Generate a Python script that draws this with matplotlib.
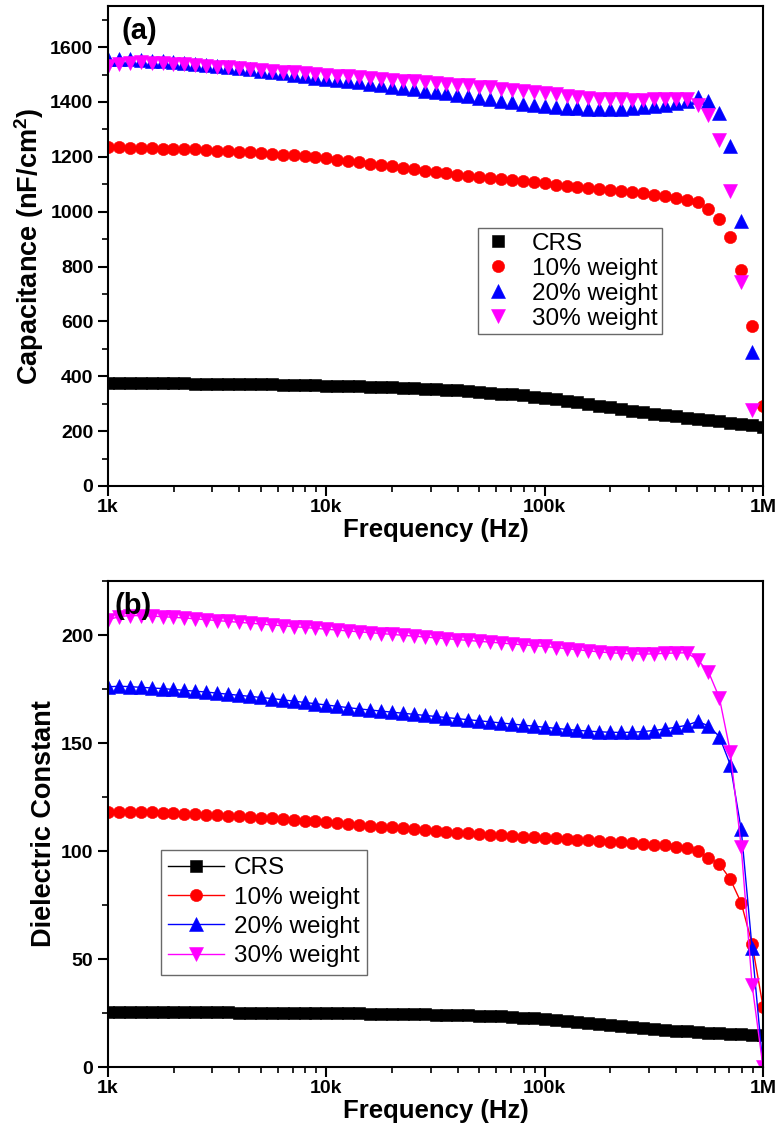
import numpy as np
import matplotlib
matplotlib.use("Agg")
import matplotlib.pyplot as plt
from matplotlib.ticker import FixedLocator, FixedFormatter, MultipleLocator, LogLocator, NullFormatter

plt.rcParams['font.family'] = ['Liberation Sans', 'DejaVu Sans']
plt.rcParams['mathtext.fontset'] = 'custom'
plt.rcParams['mathtext.bf'] = 'Liberation Sans:bold'
plt.rcParams['mathtext.rm'] = 'Liberation Sans'

# frequency sweep (Hz), 20 points per decade
freq_hz = [1000, 1122, 1259, 1413, 1585, 1778, 1995, 2239, 2512, 2818,
           3162, 3548, 3981, 4467, 5012, 5623, 6310, 7079, 7943, 8913,
           10000, 11220, 12589, 14125, 15849, 17783, 19953, 22387, 25119, 28184,
           31623, 35481, 39811, 44668, 50119, 56234, 63096, 70795, 79433, 89125,
           100000, 112202, 125893, 141254, 158489, 177828, 199526, 223872, 251189, 281838,
           316228, 354813, 398107, 446684, 501187, 562341, 630957, 707946, 794328, 891251,
           1000000]

series_names = ['CRS', '10% weight', '20% weight', '30% weight']

# (a) capacitance, nF/cm2
cap_crs = [376, 376, 375, 375, 375, 374, 374, 374, 373, 373, 372, 372, 371, 371, 370, 370, 369, 369, 368, 367, 366,
           365, 364, 363, 362, 361, 360, 358, 357, 355, 353, 351, 349, 346, 343, 340, 337, 334, 330, 326, 322,
           317, 311, 305, 299, 293, 287, 281, 275, 269, 264, 259, 254, 249, 245, 241, 236, 231, 226, 221, 216]
cap_10 = [1235, 1234, 1233, 1232, 1231, 1230, 1229, 1228, 1227, 1225, 1223, 1221, 1219, 1217, 1214, 1211, 1208, 1205, 1202, 1199, 1195,
          1190, 1185, 1180, 1175, 1170, 1165, 1160, 1155, 1150, 1145, 1140, 1135, 1131, 1127, 1123, 1119, 1115, 1111, 1107, 1103,
          1099, 1095, 1091, 1087, 1083, 1079, 1075, 1071, 1067, 1062, 1057, 1051, 1044,
          1034, 1008, 972, 906, 789, 584, 292]
cap_20 = [1555, 1558, 1556, 1553, 1551, 1548, 1545, 1542, 1538, 1535, 1531, 1527, 1523, 1519, 1514, 1509, 1504, 1499, 1494, 1488, 1484,
          1480, 1476, 1471, 1466, 1461, 1456, 1451, 1446, 1441, 1436, 1431, 1425, 1420, 1414, 1409, 1404, 1399, 1394, 1389, 1385,
          1382, 1379, 1377, 1375, 1374, 1374, 1375, 1377, 1380, 1384, 1389, 1395, 1405,
          1418, 1403, 1359, 1238, 965, 490, np.nan]
cap_30 = [1532, 1540, 1543, 1544, 1543, 1542, 1540, 1538, 1535, 1532, 1529, 1526, 1523, 1520, 1517, 1514, 1511, 1508, 1505, 1502, 1499,
          1496, 1493, 1490, 1487, 1484, 1481, 1478, 1475, 1472, 1469, 1466, 1463, 1460, 1456, 1453, 1449, 1445, 1441, 1437, 1433,
          1428, 1423, 1419, 1415, 1412, 1410, 1409, 1408, 1408, 1409, 1410, 1410, 1410,
          1390, 1353, 1260, 1074, 745, 278, np.nan]

# (b) dielectric constant
eps_crs = [25.6, 25.6, 25.6, 25.5, 25.5, 25.5, 25.4, 25.4, 25.4, 25.3, 25.3, 25.3, 25.2, 25.2, 25.2, 25.1, 25.1, 25.0, 25.0, 25.0, 24.9,
           24.9, 24.8, 24.8, 24.7, 24.7, 24.6, 24.6, 24.5, 24.4, 24.3, 24.2, 24.1, 24.0, 23.8, 23.6, 23.4, 23.2, 22.9, 22.6, 22.2,
           21.8, 21.3, 20.8, 20.3, 19.8, 19.3, 18.8, 18.3, 17.9, 17.5, 17.1, 16.8, 16.5,
           16.2, 15.9, 15.6, 15.3, 15.1, 14.9, 14.7]
eps_10 = [118, 118.2, 118.1, 118, 117.9, 117.7, 117.5, 117.3, 117.1, 116.9, 116.6, 116.3, 116, 115.7, 115.4, 115.1, 114.8, 114.5, 114.1, 113.7, 113.3,
          112.9, 112.5, 112.1, 111.7, 111.3, 110.9, 110.5, 110.1, 109.7, 109.3, 108.9, 108.5, 108.2, 107.9, 107.6, 107.3, 107, 106.7, 106.4, 106.1,
          105.8, 105.5, 105.2, 104.9, 104.6, 104.3, 104, 103.7, 103.4, 103, 102.6, 102, 101.2,
          100, 97, 94, 87, 76, 57, 28]
eps_20 = [176, 176.3, 176.1, 175.8, 175.5, 175.2, 174.8, 174.4, 174, 173.6, 173.1, 172.6, 172.1, 171.6, 171.1, 170.6, 170, 169.4, 168.8, 168.2, 167.6,
          167, 166.4, 165.8, 165.3, 164.8, 164.3, 163.8, 163.3, 162.8, 162.3, 161.8, 161.3, 160.8, 160.3, 159.8, 159.3, 158.8, 158.3, 157.8, 157.3,
          156.8, 156.3, 155.9, 155.5, 155.2, 155, 154.9, 155, 155.3, 155.8, 156.5, 157.3, 158.2,
          160, 158, 153, 140, 110, 55, 0]
eps_30 = [207, 208.5, 209, 209, 208.8, 208.5, 208.2, 207.9, 207.5, 207.1, 206.7, 206.3, 205.9, 205.5, 205.1, 204.7, 204.3, 203.9, 203.5, 203.1, 202.7,
          202.3, 201.9, 201.5, 201.1, 200.7, 200.3, 199.9, 199.5, 199.1, 198.7, 198.3, 197.9, 197.5, 197.1, 196.7, 196.3, 195.9, 195.5, 195.1, 194.7,
          194.2, 193.7, 193.2, 192.7, 192.2, 191.8, 191.5, 191.3, 191.2, 191.3, 191.5, 191.7, 191.8,
          188.6, 183, 171, 146, 102, 38, 0]

colors = ['black', 'red', 'blue', 'magenta']
markers = ['s', 'o', '^', 'v']
msizes = [8.4, 8.8, 9.8, 9.8]

fig = plt.figure(figsize=(7.77, 11.44), dpi=100)
ax_a = fig.add_axes([0.139, 0.5752, 0.843, 0.4196])
ax_b = fig.add_axes([0.139, 0.0673, 0.843, 0.4248])


def style_axis(ax, ymax, ymajor, yminor):
    ax.set_xscale('log')
    ax.set_xlim(1e3, 1e6)
    ax.set_ylim(0, ymax)
    ax.xaxis.set_major_locator(FixedLocator([1e3, 1e4, 1e5, 1e6]))
    ax.xaxis.set_major_formatter(FixedFormatter(['1k', '10k', '100k', '1M']))
    ax.xaxis.set_minor_locator(LogLocator(base=10, subs=np.arange(2, 10)))
    ax.xaxis.set_minor_formatter(NullFormatter())
    ax.yaxis.set_major_locator(MultipleLocator(ymajor))
    ax.yaxis.set_minor_locator(MultipleLocator(yminor))
    ax.tick_params(which='major', direction='out', length=7, width=1.5,
                   labelsize=14, top=False, right=False)
    ax.tick_params(axis='x', which='major', pad=2.5)
    ax.tick_params(which='minor', direction='out', length=4, width=1.2,
                   top=False, right=False)
    for lab in ax.get_xticklabels() + ax.get_yticklabels():
        lab.set_fontweight('bold')
    for sp in ax.spines.values():
        sp.set_linewidth(1.5)
    ax.set_xlabel('Frequency (Hz)', fontsize=18.5, fontweight='bold', labelpad=1)


# panel (a): markers only
for vals, name, c, m, s in zip([cap_crs, cap_10, cap_20, cap_30], series_names, colors, markers, msizes):
    ax_a.plot(freq_hz, vals, linestyle='none', marker=m, markersize=s, color=c,
              markeredgecolor=c, markeredgewidth=0.4, label=name)
style_axis(ax_a, 1750, 200, 100)
ax_a.set_ylabel(r'Capacitance (nF/cm$^{\mathbf{2}}$)', fontsize=19.5, fontweight='bold', labelpad=3)
ax_a.text(0.02, 0.978, '(a)', transform=ax_a.transAxes, fontsize=21,
          fontweight='bold', va='top', ha='left')
leg = ax_a.legend(loc='upper left', bbox_to_anchor=(0.565, 0.5375), fontsize=17.5,
                  frameon=True, fancybox=False, edgecolor='#444444', handlelength=1.2,
                  handletextpad=0.8, borderpad=0.2, labelspacing=0.12, borderaxespad=0)
leg.get_frame().set_linewidth(1.0)

# panel (b): lines and markers
for vals, name, c, m, s in zip([eps_crs, eps_10, eps_20, eps_30], series_names, colors, markers, msizes):
    ax_b.plot(freq_hz, vals, linestyle='-', linewidth=1.0, marker=m, markersize=s, color=c,
              markeredgecolor=c, markeredgewidth=0.4, label=name)
style_axis(ax_b, 225, 50, 25)
ax_b.set_ylabel('Dielectric Constant', fontsize=19.5, fontweight='bold', labelpad=3)
ax_b.text(0.01, 0.978, '(b)', transform=ax_b.transAxes, fontsize=21,
          fontweight='bold', va='top', ha='left')
leg = ax_b.legend(loc='upper left', bbox_to_anchor=(0.081, 0.4465), fontsize=17.5,
                  frameon=True, fancybox=False, edgecolor='#444444', handlelength=2.3,
                  handletextpad=0.4, borderpad=0.3, labelspacing=0.3, borderaxespad=0)
leg.get_frame().set_linewidth(1.0)

fig.savefig('out.png', dpi=100)
